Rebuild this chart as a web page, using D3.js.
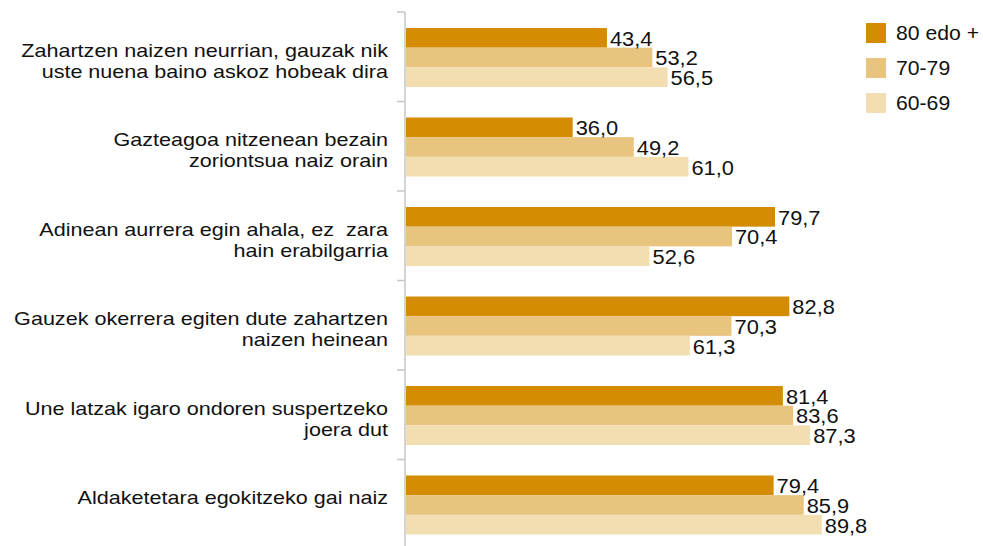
<!DOCTYPE html>
<html>
<head>
<meta charset="utf-8">
<script src="https://cdn.jsdelivr.net/npm/d3@7"></script>
<style>
  html, body { margin: 0; padding: 0; background: #fff; }
  svg { display: block; font-family: "Liberation Sans", Arial, Helvetica, sans-serif; }
  .cat { white-space: pre; }
</style>
</head>
<body>
<svg id="chart" width="983" height="546"></svg>
<script>
// Statements (each entry is one label, split into lines)
const categories = [
  ["Zahartzen naizen neurrian, gauzak nik", "uste nuena baino askoz hobeak dira"],
  ["Gazteagoa nitzenean bezain", "zoriontsua naiz orain"],
  ["Adinean aurrera egin ahala, ez  zara", "hain erabilgarria"],
  ["Gauzek okerrera egiten dute zahartzen", "naizen heinean"],
  ["Une latzak igaro ondoren suspertzeko", "joera dut"],
  ["Aldaketetara egokitzeko gai naiz"]
];

// Age groups (legend order)
const series = ["80 edo +", "70-79", "60-69"];

// Percentages per age group, one value per statement
const values80 = [43.4, 36.0, 79.7, 82.8, 81.4, 79.4];
const values70 = [53.2, 49.2, 70.4, 70.3, 83.6, 85.9];
const values60 = [56.5, 61.0, 52.6, 61.3, 87.3, 89.8];

const colors = ["#d48c03", "#e8c47f", "#f3deb2"];

const seriesValues = [values80, values70, values60];
const catKeys = categories.map((c, i) => "c" + i);

const svg = d3.select("#chart");

const y0 = d3.scaleBand().domain(catKeys).range([12, 549]).paddingInner(0).paddingOuter(0);
const groupOffset = 16;
const y1 = d3.scaleBand().domain(series).range([0, 59]).padding(0);
const x = d3.scaleLinear().domain([0, 100]).range([406, 869]);

const fmt = v => d3.format(".1f")(v).replace(".", ",");

// Wide grotesque look: Liberation Sans slightly stretched horizontally
const catStretch = 1.16, valStretch = 1.12, legStretch = 1.06;

// Bars and value labels
const groups = svg.append("g").selectAll("g")
  .data(catKeys)
  .join("g")
  .attr("transform", k => `translate(0,${y0(k) + groupOffset})`);

groups.each(function(k, ci) {
  const g = d3.select(this);
  const rows = series.map((s, si) => ({ s, si, v: seriesValues[si][ci] }));
  g.selectAll("rect")
    .data(rows)
    .join("rect")
    .attr("x", x(0))
    .attr("y", d => y1(d.s))
    .attr("width", d => x(d.v) - x(0))
    .attr("height", y1.bandwidth())
    .attr("fill", d => colors[d.si]);
  g.selectAll("text")
    .data(rows)
    .join("text")
    .attr("transform", d => `translate(${x(d.v) + 3},${y1(d.s) + y1.bandwidth() - 2}) scale(${valStretch},1)`)
    .attr("font-size", 19.5)
    .attr("fill", "#111")
    .text(d => fmt(d.v));
});

// Category axis: vertical line with ticks on the band boundaries
const axisColor = "#c6c6c6";
const axisX = 405;
const axis = svg.append("g");
axis.append("line")
  .attr("x1", axisX).attr("x2", axisX)
  .attr("y1", y0.range()[0]).attr("y2", y0.range()[1])
  .attr("stroke", axisColor).attr("stroke-width", 1.5);
const boundaries = catKeys.map(k => y0(k)).concat([y0.range()[1]]);
axis.selectAll("line.tick")
  .data(boundaries)
  .join("line")
  .attr("class", "tick")
  .attr("x1", axisX - 8).attr("x2", axisX)
  .attr("y1", d => d).attr("y2", d => d)
  .attr("stroke", axisColor).attr("stroke-width", 1.5);

// Category labels, right-aligned against the axis; first baseline near the band centre
const lineH = 21;
svg.append("g").selectAll("text")
  .data(categories)
  .join("text")
  .attr("class", "cat")
  .attr("text-anchor", "end")
  .attr("font-size", 18.6)
  .attr("fill", "#111")
  .attr("transform", `translate(388,0) scale(${catStretch},1)`)
  .each(function(lines, i) {
    const base = y0(catKeys[i]) + y0.bandwidth() / 2;
    d3.select(this).selectAll("tspan")
      .data(lines)
      .join("tspan")
      .attr("x", 0)
      .attr("y", (d, j) => base + j * lineH)
      .text(d => d);
  });

// Legend
const legend = svg.append("g").attr("transform", "translate(866,23)");
const li = legend.selectAll("g")
  .data(series)
  .join("g")
  .attr("transform", (d, i) => `translate(0,${i * 35})`);
li.append("rect")
  .attr("width", 20).attr("height", 20)
  .attr("fill", (d, i) => colors[i]);
li.append("text")
  .attr("transform", `translate(30,10) scale(${legStretch},1)`)
  .attr("dy", "0.35em")
  .attr("font-size", 20).attr("fill", "#111")
  .text(d => d);
</script>
</body>
</html>
